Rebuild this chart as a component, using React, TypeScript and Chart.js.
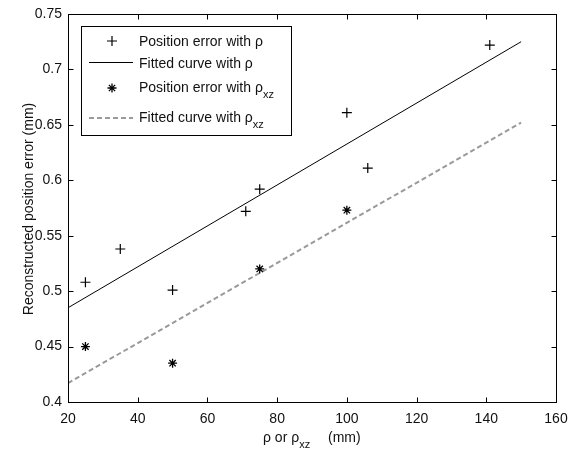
import React, { useEffect, useRef } from 'react';
import { Chart, registerables } from 'chart.js';

Chart.register(...registerables);

// ---- data ----
const rhoX = [25, 35, 50, 71, 75, 100, 106, 141];
const rhoErr = [0.508, 0.538, 0.501, 0.572, 0.592, 0.661, 0.611, 0.722];
const xzX = [25, 50, 75, 100];
const xzErr = [0.45, 0.435, 0.52, 0.573];
const fitX = [20, 150];
const fitRho = [0.485, 0.725];
const fitXz = [0.417, 0.652];
const xTicks = [20, 40, 60, 80, 100, 120, 140, 160];
const yTicks = [0.4, 0.45, 0.5, 0.55, 0.6, 0.65, 0.7, 0.75];

const FONT = '"Liberation Sans", Arial, sans-serif';
const TXT = '#111';

function pts(xs: number[], ys: number[]) {
  return xs.map((x, i) => ({ x, y: ys[i] }));
}

function drawCross(ctx: CanvasRenderingContext2D, x: number, y: number, r: number) {
  ctx.beginPath();
  ctx.moveTo(x - r, y);
  ctx.lineTo(x + r, y);
  ctx.moveTo(x, y - r);
  ctx.lineTo(x, y + r);
  ctx.stroke();
}

function drawStar(ctx: CanvasRenderingContext2D, x: number, y: number, r: number) {
  drawCross(ctx, x, y, r);
  const d = r * 0.7;
  ctx.beginPath();
  ctx.moveTo(x - d, y - d);
  ctx.lineTo(x + d, y + d);
  ctx.moveTo(x - d, y + d);
  ctx.lineTo(x + d, y - d);
  ctx.stroke();
}

const decorPlugin = {
  id: 'decor',
  afterDraw(chart: any) {
    const ctx: CanvasRenderingContext2D = chart.ctx;
    const a = chart.chartArea;
    const xs = chart.scales.x;
    const ys = chart.scales.y;
    ctx.save();
    // frame
    ctx.strokeStyle = '#000';
    ctx.lineWidth = 1;
    const L = Math.round(a.left) + 0.5;
    const R = Math.round(a.right) + 0.5;
    const T = Math.round(a.top) + 0.5;
    const B = Math.round(a.bottom) + 0.5;
    ctx.strokeRect(L, T, R - L, B - T);
    // inward ticks
    const tl = 5;
    ctx.beginPath();
    xTicks.forEach((v) => {
      const px = Math.round(xs.getPixelForValue(v)) + 0.5;
      ctx.moveTo(px, B);
      ctx.lineTo(px, B - tl);
      ctx.moveTo(px, T);
      ctx.lineTo(px, T + tl);
    });
    yTicks.forEach((v) => {
      const py = Math.round(ys.getPixelForValue(v)) + 0.5;
      ctx.moveTo(L, py);
      ctx.lineTo(L + tl, py);
      ctx.moveTo(R, py);
      ctx.lineTo(R - tl, py);
    });
    ctx.stroke();

    // axis titles
    ctx.fillStyle = TXT;
    ctx.font = `14px ${FONT}`;
    ctx.textBaseline = 'alphabetic';
    ctx.save();
    ctx.translate(33, 209);
    ctx.rotate(-Math.PI / 2);
    ctx.textAlign = 'center';
    ctx.fillText('Reconstructed position error (mm)', 0, 0);
    ctx.restore();

    ctx.textAlign = 'left';
    let x0 = 263;
    const by = 442;
    ctx.font = `14px ${FONT}`;
    ctx.fillText('ρ or ρ', x0, by);
    x0 += ctx.measureText('ρ or ρ').width;
    ctx.font = `11px ${FONT}`;
    ctx.fillText('xz', x0, by + 6);
    ctx.font = `14px ${FONT}`;
    ctx.fillText('(mm)', 328, by);

    // legend
    const lx = 81.5, ly = 26.5, lw = 210, lh = 109;
    ctx.fillStyle = '#fff';
    ctx.fillRect(lx, ly, lw, lh);
    ctx.strokeStyle = '#000';
    ctx.lineWidth = 1;
    ctx.strokeRect(lx, ly, lw, lh);

    const tx = 139;
    ctx.fillStyle = TXT;
    const writeSub = (main: string, sub: string, y: number, subDy: number) => {
      ctx.font = `14px ${FONT}`;
      ctx.fillText(main, tx, y);
      if (sub) {
        const w = ctx.measureText(main).width;
        ctx.font = `11px ${FONT}`;
        ctx.fillText(sub, tx + w, y + subDy);
      }
    };
    writeSub('Position error with ρ', '', 46, 0);
    writeSub('Fitted curve with ρ', '', 68, 0);
    writeSub('Position error with ρ', 'xz', 92, 6);
    writeSub('Fitted curve with ρ', 'xz', 122, 6);

    ctx.strokeStyle = '#000';
    ctx.lineWidth = 1.2;
    drawCross(ctx, 112, 41, 5);
    ctx.lineWidth = 1;
    ctx.beginPath();
    ctx.moveTo(89, 62.5);
    ctx.lineTo(133, 62.5);
    ctx.stroke();
    ctx.lineWidth = 1.3;
    drawStar(ctx, 112, 88, 4.5);
    ctx.fillStyle = '#000';
    ctx.beginPath();
    ctx.arc(112, 88, 1.5, 0, Math.PI * 2);
    ctx.fill();
    ctx.strokeStyle = '#9a9a9a';
    ctx.lineWidth = 2;
    ctx.setLineDash([5, 3]);
    ctx.beginPath();
    ctx.moveTo(89, 118);
    ctx.lineTo(133, 118);
    ctx.stroke();
    ctx.setLineDash([]);

    ctx.restore();
  },
};

const starDotPlugin = {
  id: 'starDot',
  afterDatasetsDraw(chart: any) {
    const ctx: CanvasRenderingContext2D = chart.ctx;
    const meta = chart.getDatasetMeta(1);
    ctx.save();
    ctx.fillStyle = '#000';
    meta.data.forEach((el: any) => {
      ctx.beginPath();
      ctx.arc(el.x, el.y, 1.5, 0, Math.PI * 2);
      ctx.fill();
    });
    ctx.restore();
  },
};

export default function App() {
  const ref = useRef<HTMLCanvasElement | null>(null);
  useEffect(() => {
    document.body.style.margin = '0';
    const canvas = ref.current;
    if (!canvas) return;
    const chart = new Chart(canvas, {
      type: 'scatter',
      data: {
        datasets: [
          {
            label: 'Position error with ρ',
            data: pts(rhoX, rhoErr),
            pointStyle: 'cross',
            pointRadius: 5,
            borderColor: '#000',
            backgroundColor: '#000',
            borderWidth: 1.2,
          },
          {
            label: 'Position error with ρxz',
            data: pts(xzX, xzErr),
            pointStyle: 'star',
            pointRadius: 4.5,
            borderColor: '#000',
            backgroundColor: '#000',
            borderWidth: 1.3,
          },
          {
            label: 'Fitted curve with ρ',
            data: pts(fitX, fitRho),
            showLine: true,
            pointRadius: 0,
            borderColor: '#000',
            borderWidth: 1,
          },
          {
            label: 'Fitted curve with ρxz',
            data: pts(fitX, fitXz),
            showLine: true,
            pointRadius: 0,
            borderColor: '#9a9a9a',
            borderWidth: 2,
            borderDash: [5, 3],
          },
        ],
      },
      options: {
        animation: false,
        responsive: false,
        devicePixelRatio: 1,
        layout: { padding: { top: 14, right: 16, left: 0, bottom: 0 } },
        plugins: {
          legend: { display: false },
          tooltip: { enabled: false },
        },
        scales: {
          x: {
            type: 'linear',
            min: 20,
            max: 160,
            afterBuildTicks: (s: any) => {
              s.ticks = xTicks.map((v) => ({ value: v }));
            },
            afterFit: (s: any) => {
              s.height = 48;
              s.paddingLeft = 0;
              s.paddingRight = 0;
            },
            grid: { display: false, drawTicks: false },
            border: { display: false },
            ticks: {
              color: TXT,
              font: { family: FONT, size: 14 },
              padding: 9,
              maxRotation: 0,
              callback: (v: any) => String(v),
            },
          },
          y: {
            type: 'linear',
            min: 0.4,
            max: 0.75,
            afterBuildTicks: (s: any) => {
              s.ticks = yTicks.map((v) => ({ value: v }));
            },
            afterFit: (s: any) => {
              s.width = 68;
              s.paddingTop = 0;
              s.paddingBottom = 0;
            },
            grid: { display: false, drawTicks: false },
            border: { display: false },
            ticks: {
              color: TXT,
              font: { family: FONT, size: 14 },
              padding: 6,
              callback: (v: any) => String(Number(Number(v).toFixed(2))),
            },
          },
        },
      },
      plugins: [starDotPlugin, decorPlugin],
    } as any);
    return () => chart.destroy();
  }, []);
  return (
    <div style={{ width: 572, height: 450, background: '#fff' }}>
      <canvas ref={ref} width={572} height={450} style={{ display: 'block' }} />
    </div>
  );
}
